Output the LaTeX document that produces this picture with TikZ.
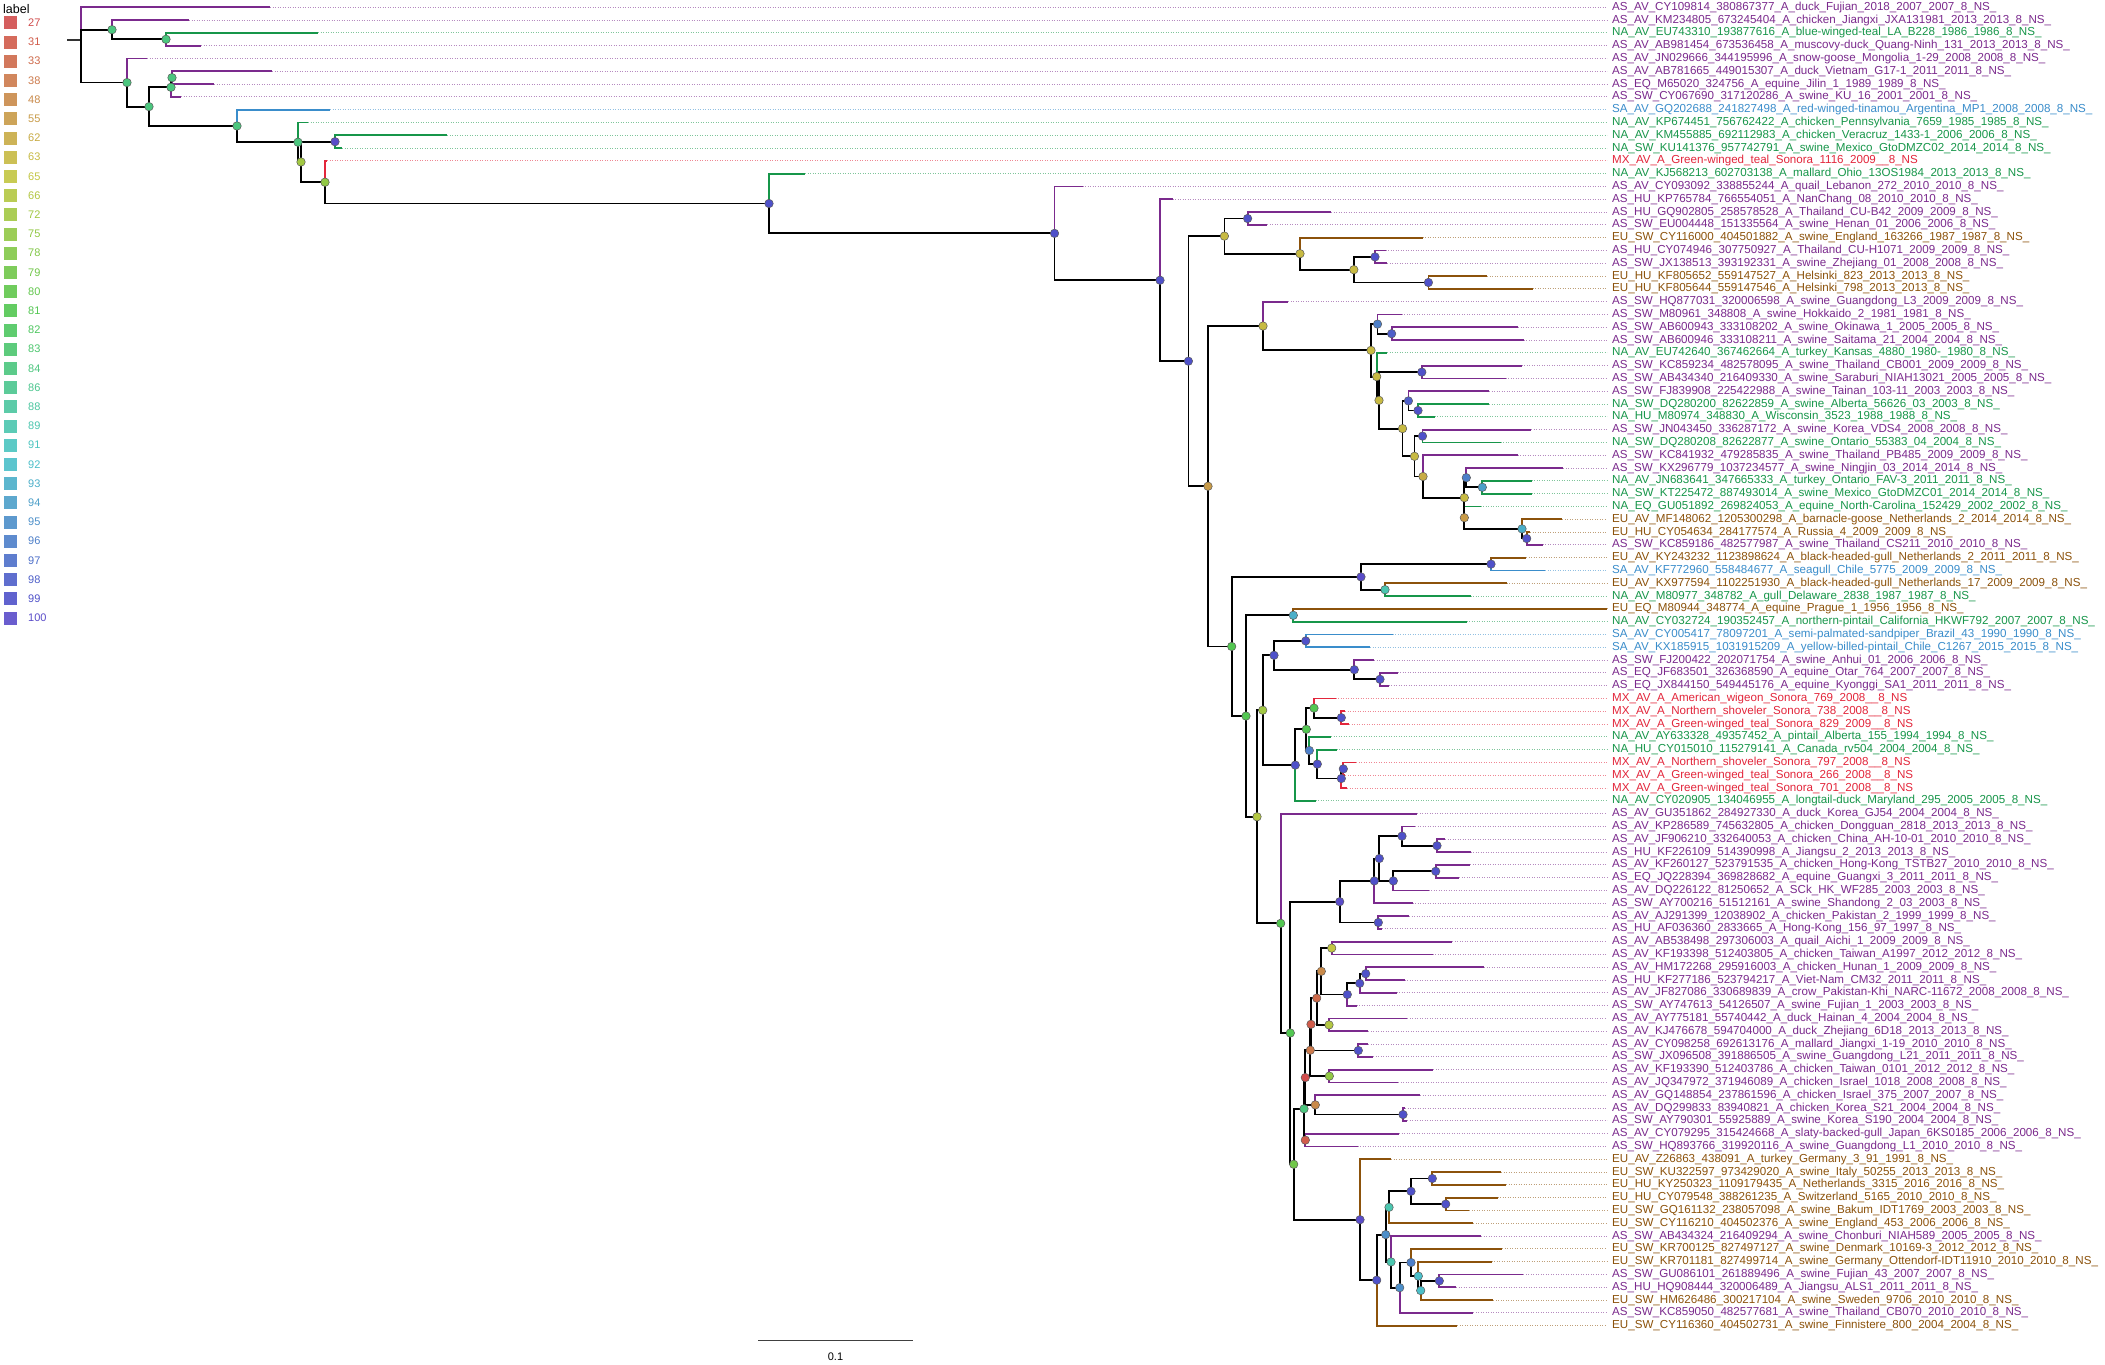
\documentclass[tikz,border=0pt]{standalone}
\usepackage{fontspec}
\setmainfont{Liberation Sans}
\usetikzlibrary{calc}
\definecolor{cAS}{HTML}{7B2A8D}
\definecolor{cNA}{HTML}{17964A}
\definecolor{cEU}{HTML}{8C520B}
\definecolor{cSA}{HTML}{3A8DCB}
\definecolor{cMX}{HTML}{E3263B}
\definecolor{s27}{HTML}{D14D4D}\definecolor{s31}{HTML}{D15C4B}\definecolor{s33}{HTML}{CE6A4B}
\definecolor{s38}{HTML}{CC7A4C}\definecolor{s48}{HTML}{C98A4A}\definecolor{s55}{HTML}{C89B48}
\definecolor{s62}{HTML}{C8AB45}\definecolor{s63}{HTML}{C7BA43}\definecolor{s65}{HTML}{C3C642}
\definecolor{s66}{HTML}{B3C742}\definecolor{s72}{HTML}{A2C843}\definecolor{s75}{HTML}{92C845}
\definecolor{s78}{HTML}{82C848}\definecolor{s79}{HTML}{71C74A}\definecolor{s80}{HTML}{61C74C}
\definecolor{s81}{HTML}{53C752}\definecolor{s82}{HTML}{4EC760}\definecolor{s83}{HTML}{4CC66E}
\definecolor{s84}{HTML}{4BC67E}\definecolor{s86}{HTML}{4BC68E}\definecolor{s88}{HTML}{4BC69F}
\definecolor{s89}{HTML}{4BC6AF}\definecolor{s91}{HTML}{4BC5C0}\definecolor{s92}{HTML}{4BBFC9}
\definecolor{s93}{HTML}{4BAFC9}\definecolor{s94}{HTML}{4C9FC9}\definecolor{s95}{HTML}{4C8FC9}
\definecolor{s96}{HTML}{4D7FC9}\definecolor{s97}{HTML}{4D6FC9}\definecolor{s98}{HTML}{4E5FC9}
\definecolor{s99}{HTML}{4F51C9}\definecolor{s100}{HTML}{5A4CC9}
\tikzset{
  br/.style={line width=1.8pt},
  dotline/.style={line width=0.9pt, dash pattern=on 0.9pt off 1.6pt, opacity=0.55},
  tiplab/.style={anchor=west, inner sep=0pt, font=\fontsize{11.6}{12}\selectfont},
  supc/.style={circle, minimum size=8.5pt, inner sep=0pt, draw=black!65, line width=0.5pt},
  legsq/.style={minimum size=13pt, inner sep=0pt, opacity=0.9},
  legtxt/.style={anchor=west, inner sep=0pt, font=\fontsize{11}{12}\selectfont},
}
\newcommand\Rw[1]{\csname r@#1\endcsname}
\newcommand\innode[3]{%
  \edef\tmpexpr{#3}%
  \pgfmathsetmacro\tmprow{\tmpexpr}%
  \expandafter\xdef\csname r@#1\endcsname{\tmprow}%
  \coordinate (#1) at (#2,{7.3+(\tmprow-1)*12.8});%
}
\newcommand\tipx[5]{%
  \coordinate (t#1) at (#2,{7.3+(#1-1)*12.8});%
  \coordinate (e#1) at (1607,{7.3+(#1-1)*12.8});%
  \draw[dotline,#4] (t#1) -- (e#1);%
  \draw[br,#4] (#3) |- (t#1);%
  \node[tiplab,text=#4] (l#1) at (1612,{7.3+(#1-1)*12.8}) {#5};%
}
\begin{document}
\catcode`\_=12
\begin{tikzpicture}[x=1pt,y=-1pt]
\fill[white] (0,0) rectangle (2105,1365);
\useasboundingbox (0,0) rectangle (2105,1365);
% ---- internal nodes (bottom-up) ----
\innode{B}{166}{(3+4)/2}
\innode{A}{112}{(2+\Rw{B})/2}
\innode{E1}{172}{(6+7)/2}
\innode{E}{171}{(\Rw{E1}+8)/2}
\innode{H}{335}{(11+12)/2}
\innode{O1}{1247.6}{17.5}
\innode{O4}{1375}{20.5}
\innode{O5}{1428.4}{22.5}
\innode{O3}{1353.8}{(\Rw{O4}+\Rw{O5})/2}
\innode{O2}{1300}{(19+\Rw{O3})/2}
\innode{O}{1224.4}{(\Rw{O1}+\Rw{O2})/2}
\innode{R2a}{1391.6}{26.5}
\innode{R2}{1377.5}{(25+\Rw{R2a})/2}
\innode{R5}{1421.8}{29.5}
\innode{R7a}{1418}{32.5}
\innode{R7}{1408.4}{(31+\Rw{R7a})/2}
\innode{R8a}{1422.5}{34.5}
\innode{R11a}{1482.3}{38.5}
\innode{R11}{1466.3}{(37+\Rw{R11a})/2}
\innode{R13a}{1526.7}{42.5}
\innode{R13}{1522}{(41+\Rw{R13a})/2}
\innode{R12}{1464.3}{(40+\Rw{R13})/2}
\innode{R10}{1464.3}{(\Rw{R11}+\Rw{R12})/2}
\innode{R9}{1423}{(36+\Rw{R10})/2}
\innode{R8}{1414.5}{(\Rw{R8a}+\Rw{R9})/2}
\innode{R6}{1402.5}{(\Rw{R7}+\Rw{R8})/2}
\innode{R3b}{1379}{(\Rw{R5}+\Rw{R6})/2}
\innode{R3}{1376.7}{(28+\Rw{R3b})/2}
\innode{R1}{1371}{(\Rw{R2}+\Rw{R3})/2}
\innode{R}{1263}{(24+\Rw{R1})/2}
\innode{S1a}{1491}{44.5}
\innode{S1b}{1385}{46.5}
\innode{S1}{1361}{(\Rw{S1a}+\Rw{S1b})/2}
\innode{S3}{1293.3}{48.5}
\innode{S6a}{1305.7}{50.5}
\innode{S6c}{1380}{53.5}
\innode{S6b}{1354.3}{(52+\Rw{S6c})/2}
\innode{S6}{1274}{(\Rw{S6a}+\Rw{S6b})/2}
\innode{S9a}{1341.3}{56.5}
\innode{S9}{1314}{(55+\Rw{S9a})/2}
\innode{S12a}{1343.3}{60.5}
\innode{S12}{1341.3}{(\Rw{S12a}+62)/2}
\innode{S11}{1317.3}{(59+\Rw{S12})/2}
\innode{S10}{1309.3}{(58+\Rw{S11})/2}
\innode{S8}{1306.3}{(\Rw{S9}+\Rw{S10})/2}
\innode{S7}{1295.3}{(\Rw{S8}+63)/2}
\innode{S5}{1262.7}{(\Rw{S6}+\Rw{S7})/2}
\innode{S21a}{1437}{66.5}
\innode{S21}{1402}{(65+\Rw{S21a})/2}
\innode{S22a}{1435.7}{68.5}
\innode{S22}{1393.3}{(\Rw{S22a}+70)/2}
\innode{S19}{1379.3}{(\Rw{S21}+\Rw{S22})/2}
\innode{S17}{1374.3}{(\Rw{S19}+71)/2}
\innode{S18}{1378.3}{72.5}
\innode{S15}{1339.7}{(\Rw{S17}+\Rw{S18})/2}
\innode{Na}{1331.7}{74.5}
\innode{Nb}{1365.7}{76.5}
\innode{Nc}{1359.7}{(\Rw{Nb}+78)/2}
\innode{Nd}{1347.3}{(\Rw{Nc}+79)/2}
\innode{Ne}{1321.3}{(\Rw{Na}+\Rw{Nd})/2}
\innode{Nf}{1329}{80.5}
\innode{Ng}{1316.7}{(\Rw{Ne}+\Rw{Nf})/2}
\innode{Nh}{1358.3}{82.5}
\innode{Ni}{1311}{(\Rw{Ng}+\Rw{Nh})/2}
\innode{Nj}{1329.3}{84.5}
\innode{Nk}{1310.3}{(\Rw{Ni}+\Rw{Nj})/2}
\innode{Nl}{1403}{87.5}
\innode{Nm}{1315.3}{(86+\Rw{Nl})/2}
\innode{Nn}{1305.3}{(\Rw{Nk}+\Rw{Nm})/2}
\innode{No}{1305.3}{89.5}
\innode{S23}{1304}{(\Rw{Nn}+\Rw{No})/2}
\innode{S29a}{1432.3}{92.5}
\innode{S29b}{1445.7}{94.5}
\innode{S29}{1411}{(\Rw{S29a}+\Rw{S29b})/2}
\innode{S27}{1389}{(\Rw{S29}+96)/2}
\innode{S34}{1439.3}{100.5}
\innode{S33}{1420.7}{(\Rw{S34}+102)/2}
\innode{S32}{1418.3}{(99+\Rw{S33})/2}
\innode{S31}{1411}{(98+\Rw{S32})/2}
\innode{S30}{1399.7}{(\Rw{S31}+103)/2}
\innode{S28}{1391}{(97+\Rw{S30})/2}
\innode{S26}{1385.7}{(\Rw{S27}+\Rw{S28})/2}
\innode{S25}{1376.7}{(\Rw{S26}+104)/2}
\innode{S24}{1360}{(91+\Rw{S25})/2}
\innode{S16}{1293.7}{(\Rw{S23}+\Rw{S24})/2}
\innode{S14}{1290.3}{(\Rw{S15}+\Rw{S16})/2}
\innode{S13}{1280.7}{(64+\Rw{S14})/2}
\innode{S4}{1257}{(\Rw{S5}+\Rw{S13})/2}
\innode{S2}{1246}{(\Rw{S3}+\Rw{S4})/2}
\innode{S}{1231.7}{(\Rw{S1}+\Rw{S2})/2}
\innode{P}{1208}{(\Rw{R}+\Rw{S})/2}
\innode{N}{1188.4}{(\Rw{O}+\Rw{P})/2}
\innode{M}{1160}{(16+\Rw{N})/2}
\innode{L}{1054.5}{(15+\Rw{M})/2}
\innode{K}{769}{(14+\Rw{L})/2}
\innode{J}{325}{(13+\Rw{K})/2}
\innode{I}{301}{(\Rw{H}+\Rw{J})/2}
\innode{G}{298}{(10+\Rw{I})/2}
\innode{F}{237}{(9+\Rw{G})/2}
\innode{D}{149}{(\Rw{E}+\Rw{F})/2}
\innode{C}{127}{(5+\Rw{D})/2}
\innode{Rt}{81}{(1+\Rw{A}+\Rw{C})/3}
\coordinate (stub) at (67,{7.3+(\Rw{Rt}-1)*12.8});
% ---- tips ----
\tipx{1}{270}{Rt}{cAS}{AS_AV_CY109814_380867377_A_duck_Fujian_2018_2007_2007_8_NS_}
\tipx{2}{189}{A}{cAS}{AS_AV_KM234805_673245404_A_chicken_Jiangxi_JXA131981_2013_2013_8_NS_}
\tipx{3}{318}{B}{cNA}{NA_AV_EU743310_193877616_A_blue-winged-teal_LA_B228_1986_1986_8_NS_}
\tipx{4}{201}{B}{cAS}{AS_AV_AB981454_673536458_A_muscovy-duck_Quang-Ninh_131_2013_2013_8_NS_}
\tipx{5}{147}{C}{cAS}{AS_AV_JN029666_344195996_A_snow-goose_Mongolia_1-29_2008_2008_8_NS_}
\tipx{6}{272}{E1}{cAS}{AS_AV_AB781665_449015307_A_duck_Vietnam_G17-1_2011_2011_8_NS_}
\tipx{7}{214}{E1}{cAS}{AS_EQ_M65020_324756_A_equine_Jilin_1_1989_1989_8_NS_}
\tipx{8}{181}{E}{cAS}{AS_SW_CY067690_317120286_A_swine_KU_16_2001_2001_8_NS_}
\tipx{9}{330}{F}{cSA}{SA_AV_GQ202688_241827498_A_red-winged-tinamou_Argentina_MP1_2008_2008_8_NS_}
\tipx{10}{308}{G}{cNA}{NA_AV_KP674451_756762422_A_chicken_Pennsylvania_7659_1985_1985_8_NS_}
\tipx{11}{447}{H}{cNA}{NA_AV_KM455885_692112983_A_chicken_Veracruz_1433-1_2006_2006_8_NS_}
\tipx{12}{342}{H}{cNA}{NA_SW_KU141376_957742791_A_swine_Mexico_GtoDMZC02_2014_2014_8_NS_}
\tipx{13}{327}{J}{cMX}{MX_AV_A_Green-winged_teal_Sonora_1116_2009__8_NS}
\tipx{14}{805}{K}{cNA}{NA_AV_KJ568213_602703138_A_mallard_Ohio_13OS1984_2013_2013_8_NS_}
\tipx{15}{1082.5}{L}{cAS}{AS_AV_CY093092_338855244_A_quail_Lebanon_272_2010_2010_8_NS_}
\tipx{16}{1172.7}{M}{cAS}{AS_HU_KP765784_766554051_A_NanChang_08_2010_2010_8_NS_}
\tipx{17}{1331}{O1}{cAS}{AS_HU_GQ902805_258578528_A_Thailand_CU-B42_2009_2009_8_NS_}
\tipx{18}{1267.3}{O1}{cAS}{AS_SW_EU004448_151335564_A_swine_Henan_01_2006_2006_8_NS_}
\tipx{19}{1422.5}{O2}{cEU}{EU_SW_CY116000_404501882_A_swine_England_163266_1987_1987_8_NS_}
\tipx{20}{1385.5}{O4}{cAS}{AS_HU_CY074946_307750927_A_Thailand_CU-H1071_2009_2009_8_NS_}
\tipx{21}{1387.3}{O4}{cAS}{AS_SW_JX138513_393192331_A_swine_Zhejiang_01_2008_2008_8_NS_}
\tipx{22}{1487.3}{O5}{cEU}{EU_HU_KF805652_559147527_A_Helsinki_823_2013_2013_8_NS_}
\tipx{23}{1532.7}{O5}{cEU}{EU_HU_KF805644_559147546_A_Helsinki_798_2013_2013_8_NS_}
\tipx{24}{1288.4}{R}{cAS}{AS_SW_HQ877031_320006598_A_swine_Guangdong_L3_2009_2009_8_NS_}
\tipx{25}{1401.8}{R2}{cAS}{AS_SW_M80961_348808_A_swine_Hokkaido_2_1981_1981_8_NS_}
\tipx{26}{1518}{R2a}{cAS}{AS_SW_AB600943_333108202_A_swine_Okinawa_1_2005_2005_8_NS_}
\tipx{27}{1523.6}{R2a}{cAS}{AS_SW_AB600946_333108211_A_swine_Saitama_21_2004_2004_8_NS_}
\tipx{28}{1387}{R3}{cNA}{NA_AV_EU742640_367462664_A_turkey_Kansas_4880_1980-_1980_8_NS_}
\tipx{29}{1521.8}{R5}{cAS}{AS_SW_KC859234_482578095_A_swine_Thailand_CB001_2009_2009_8_NS_}
\tipx{30}{1505.5}{R5}{cAS}{AS_SW_AB434340_216409330_A_swine_Saraburi_NIAH13021_2005_2005_8_NS_}
\tipx{31}{1489}{R7}{cAS}{AS_SW_FJ839908_225422988_A_swine_Tainan_103-11_2003_2003_8_NS_}
\tipx{32}{1489}{R7a}{cNA}{NA_SW_DQ280200_82622859_A_swine_Alberta_56626_03_2003_8_NS_}
\tipx{33}{1434.5}{R7a}{cNA}{NA_HU_M80974_348830_A_Wisconsin_3523_1988_1988_8_NS_}
\tipx{34}{1531}{R8a}{cAS}{AS_SW_JN043450_336287172_A_swine_Korea_VDS4_2008_2008_8_NS_}
\tipx{35}{1500.7}{R8a}{cNA}{NA_SW_DQ280208_82622877_A_swine_Ontario_55383_04_2004_8_NS_}
\tipx{36}{1517.5}{R9}{cAS}{AS_SW_KC841932_479285835_A_swine_Thailand_PB485_2009_2009_8_NS_}
\tipx{37}{1563.3}{R11}{cAS}{AS_SW_KX296779_1037234577_A_swine_Ningjin_03_2014_2014_8_NS_}
\tipx{38}{1531.7}{R11a}{cNA}{NA_AV_JN683641_347665333_A_turkey_Ontario_FAV-3_2011_2011_8_NS_}
\tipx{39}{1531.7}{R11a}{cNA}{NA_SW_KT225472_887493014_A_swine_Mexico_GtoDMZC01_2014_2014_8_NS_}
\tipx{40}{1480.7}{R12}{cNA}{NA_EQ_GU051892_269824053_A_equine_North-Carolina_152429_2002_2002_8_NS_}
\tipx{41}{1562.3}{R13}{cEU}{EU_AV_MF148062_1205300298_A_barnacle-goose_Netherlands_2_2014_2014_8_NS_}
\tipx{42}{1530}{R13a}{cEU}{EU_HU_CY054634_284177574_A_Russia_4_2009_2009_8_NS_}
\tipx{43}{1542.7}{R13a}{cAS}{AS_SW_KC859186_482577987_A_swine_Thailand_CS211_2010_2010_8_NS_}
\tipx{44}{1526}{S1a}{cEU}{EU_AV_KY243232_1123898624_A_black-headed-gull_Netherlands_2_2011_2011_8_NS_}
\tipx{45}{1545}{S1a}{cSA}{SA_AV_KF772960_558484677_A_seagull_Chile_5775_2009_2009_8_NS_}
\tipx{46}{1506.7}{S1b}{cEU}{EU_AV_KX977594_1102251930_A_black-headed-gull_Netherlands_17_2009_2009_8_NS_}
\tipx{47}{1470.7}{S1b}{cNA}{NA_AV_M80977_348782_A_gull_Delaware_2838_1987_1987_8_NS_}
\tipx{48}{1606.7}{S3}{cEU}{EU_EQ_M80944_348774_A_equine_Prague_1_1956_1956_8_NS_}
\tipx{49}{1466.7}{S3}{cNA}{NA_AV_CY032724_190352457_A_northern-pintail_California_HKWF792_2007_2007_8_NS_}
\tipx{50}{1392.7}{S6a}{cSA}{SA_AV_CY005417_78097201_A_semi-palmated-sandpiper_Brazil_43_1990_1990_8_NS_}
\tipx{51}{1370}{S6a}{cSA}{SA_AV_KX185915_1031915209_A_yellow-billed-pintail_Chile_C1267_2015_2015_8_NS_}
\tipx{52}{1374}{S6b}{cAS}{AS_SW_FJ200422_202071754_A_swine_Anhui_01_2006_2006_8_NS_}
\tipx{53}{1397.7}{S6c}{cAS}{AS_EQ_JF683501_326368590_A_equine_Otar_764_2007_2007_8_NS_}
\tipx{54}{1388.7}{S6c}{cAS}{AS_EQ_JX844150_549445176_A_equine_Kyonggi_SA1_2011_2011_8_NS_}
\tipx{55}{1335.7}{S9}{cMX}{MX_AV_A_American_wigeon_Sonora_769_2008__8_NS}
\tipx{56}{1345}{S9a}{cMX}{MX_AV_A_Northern_shoveler_Sonora_738_2008__8_NS}
\tipx{57}{1349}{S9a}{cMX}{MX_AV_A_Green-winged_teal_Sonora_829_2009__8_NS}
\tipx{58}{1331}{S10}{cNA}{NA_AV_AY633328_49357452_A_pintail_Alberta_155_1994_1994_8_NS_}
\tipx{59}{1336.7}{S11}{cNA}{NA_HU_CY015010_115279141_A_Canada_rv504_2004_2004_8_NS_}
\tipx{60}{1356.3}{S12a}{cMX}{MX_AV_A_Northern_shoveler_Sonora_797_2008__8_NS}
\tipx{61}{1345.3}{S12a}{cMX}{MX_AV_A_Green-winged_teal_Sonora_266_2008__8_NS}
\tipx{62}{1347}{S12}{cMX}{MX_AV_A_Green-winged_teal_Sonora_701_2008__8_NS}
\tipx{63}{1315.7}{S7}{cNA}{NA_AV_CY020905_134046955_A_longtail-duck_Maryland_295_2005_2005_8_NS_}
\tipx{64}{1417.3}{S13}{cAS}{AS_AV_GU351862_284927330_A_duck_Korea_GJ54_2004_2004_8_NS_}
\tipx{65}{1415}{S21}{cAS}{AS_AV_KP286589_745632805_A_chicken_Dongguan_2818_2013_2013_8_NS_}
\tipx{66}{1445}{S21a}{cAS}{AS_AV_JF906210_332640053_A_chicken_China_AH-10-01_2010_2010_8_NS_}
\tipx{67}{1470.7}{S21a}{cAS}{AS_HU_KF226109_514390998_A_Jiangsu_2_2013_2013_8_NS_}
\tipx{68}{1470}{S22a}{cAS}{AS_AV_KF260127_523791535_A_chicken_Hong-Kong_TSTB27_2010_2010_8_NS_}
\tipx{69}{1459.3}{S22a}{cAS}{AS_EQ_JQ228394_369828682_A_equine_Guangxi_3_2011_2011_8_NS_}
\tipx{70}{1428.7}{S22}{cAS}{AS_AV_DQ226122_81250652_A_SCk_HK_WF285_2003_2003_8_NS_}
\tipx{71}{1412.7}{S17}{cAS}{AS_SW_AY700216_51512161_A_swine_Shandong_2_03_2003_8_NS_}
\tipx{72}{1409}{S18}{cAS}{AS_AV_AJ291399_12038902_A_chicken_Pakistan_2_1999_1999_8_NS_}
\tipx{73}{1382}{S18}{cAS}{AS_HU_AF036360_2833665_A_Hong-Kong_156_97_1997_8_NS_}
\tipx{74}{1452.3}{Na}{cAS}{AS_AV_AB538498_297306003_A_quail_Aichi_1_2009_2009_8_NS_}
\tipx{75}{1432.7}{Na}{cAS}{AS_AV_KF193398_512403805_A_chicken_Taiwan_A1997_2012_2012_8_NS_}
\tipx{76}{1484.3}{Nb}{cAS}{AS_AV_HM172268_295916003_A_chicken_Hunan_1_2009_2009_8_NS_}
\tipx{77}{1404.7}{Nb}{cAS}{AS_HU_KF277186_523794217_A_Viet-Nam_CM32_2011_2011_8_NS_}
\tipx{78}{1396.7}{Nc}{cAS}{AS_AV_JF827086_330689839_A_crow_Pakistan-Khi_NARC-11672_2008_2008_8_NS_}
\tipx{79}{1356.7}{Nd}{cAS}{AS_SW_AY747613_54126507_A_swine_Fujian_1_2003_2003_8_NS_}
\tipx{80}{1407.3}{Nf}{cAS}{AS_AV_AY775181_55740442_A_duck_Hainan_4_2004_2004_8_NS_}
\tipx{81}{1368.3}{Nf}{cAS}{AS_AV_KJ476678_594704000_A_duck_Zhejiang_6D18_2013_2013_8_NS_}
\tipx{82}{1368.3}{Nh}{cAS}{AS_AV_CY098258_692613176_A_mallard_Jiangxi_1-19_2010_2010_8_NS_}
\tipx{83}{1373.3}{Nh}{cAS}{AS_SW_JX096508_391886505_A_swine_Guangdong_L21_2011_2011_8_NS_}
\tipx{84}{1433.3}{Nj}{cAS}{AS_AV_KF193390_512403786_A_chicken_Taiwan_0101_2012_2012_8_NS_}
\tipx{85}{1398.3}{Nj}{cAS}{AS_AV_JQ347972_371946089_A_chicken_Israel_1018_2008_2008_8_NS_}
\tipx{86}{1420}{Nm}{cAS}{AS_AV_GQ148854_237861596_A_chicken_Israel_375_2007_2007_8_NS_}
\tipx{87}{1405}{Nl}{cAS}{AS_AV_DQ299833_83940821_A_chicken_Korea_S21_2004_2004_8_NS_}
\tipx{88}{1407}{Nl}{cAS}{AS_SW_AY790301_55925889_A_swine_Korea_S190_2004_2004_8_NS_}
\tipx{89}{1399.3}{No}{cAS}{AS_AV_CY079295_315424668_A_slaty-backed-gull_Japan_6KS0185_2006_2006_8_NS_}
\tipx{90}{1357.7}{No}{cAS}{AS_SW_HQ893766_319920116_A_swine_Guangdong_L1_2010_2010_8_NS_}
\tipx{91}{1391}{S24}{cEU}{EU_AV_Z26863_438091_A_turkey_Germany_3_91_1991_8_NS_}
\tipx{92}{1501}{S29a}{cEU}{EU_SW_KU322597_973429020_A_swine_Italy_50255_2013_2013_8_NS_}
\tipx{93}{1506}{S29a}{cEU}{EU_HU_KY250323_1109179435_A_Netherlands_3315_2016_2016_8_NS_}
\tipx{94}{1497.7}{S29b}{cEU}{EU_HU_CY079548_388261235_A_Switzerland_5165_2010_2010_8_NS_}
\tipx{95}{1469.3}{S29b}{cEU}{EU_SW_GQ161132_238057098_A_swine_Bakum_IDT1769_2003_2003_8_NS_}
\tipx{96}{1473.3}{S27}{cEU}{EU_SW_CY116210_404502376_A_swine_England_453_2006_2006_8_NS_}
\tipx{97}{1481}{S28}{cAS}{AS_SW_AB434324_216409294_A_swine_Chonburi_NIAH589_2005_2005_8_NS_}
\tipx{98}{1502.3}{S31}{cEU}{EU_SW_KR700125_827497127_A_swine_Denmark_10169-3_2012_2012_8_NS_}
\tipx{99}{1491.7}{S32}{cEU}{EU_SW_KR701181_827499714_A_swine_Germany_Ottendorf-IDT11910_2010_2010_8_NS_}
\tipx{100}{1523.3}{S34}{cAS}{AS_SW_GU086101_261889496_A_swine_Fujian_43_2007_2007_8_NS_}
\tipx{101}{1456}{S34}{cAS}{AS_HU_HQ908444_320006489_A_Jiangsu_ALS1_2011_2011_8_NS_}
\tipx{102}{1493.3}{S33}{cEU}{EU_SW_HM626486_300217104_A_swine_Sweden_9706_2010_2010_8_NS_}
\tipx{103}{1473.3}{S30}{cAS}{AS_SW_KC859050_482577681_A_swine_Thailand_CB070_2010_2010_8_NS_}
\tipx{104}{1457.3}{S25}{cEU}{EU_SW_CY116360_404502731_A_swine_Finnistere_800_2004_2004_8_NS_}
% ---- internal branches ----
\draw[br,black!80] (stub) -- (Rt);
\foreach \a/\b in {Rt/A,Rt/C,A/B,C/D,D/E,D/F,E/E1,F/G,G/I,I/H,I/J,J/K,K/L,L/M,M/N,N/O,N/P,
  O/O1,O/O2,O2/O3,O3/O4,O3/O5,P/R,P/S,R/R1,R1/R2,R1/R3,R2/R2a,R3/R3b,R3b/R5,R3b/R6,R6/R7,R6/R8,
  R7/R7a,R8/R8a,R8/R9,R9/R10,R10/R11,R10/R12,R11/R11a,R12/R13,R13/R13a,S/S1,S/S2,S1/S1a,S1/S1b,
  S2/S3,S2/S4,S4/S5,S4/S13,S5/S6,S5/S7,S6/S6a,S6/S6b,S6b/S6c,S7/S8,S8/S9,S8/S10,S9/S9a,S10/S11,
  S11/S12,S12/S12a,S13/S14,S14/S15,S14/S16,S15/S17,S15/S18,S17/S19,S19/S21,S19/S22,S21/S21a,
  S22/S22a,S16/S23,S16/S24,S23/Nn,S23/No,Nn/Nk,Nn/Nm,Nk/Ni,Nk/Nj,Ni/Ng,Ni/Nh,Ng/Ne,Ng/Nf,
  Ne/Na,Ne/Nd,Nd/Nc,Nc/Nb,Nm/Nl,S24/S25,S25/S26,S26/S27,S26/S28,S27/S29,S29/S29a,S29/S29b,
  S28/S30,S30/S31,S31/S32,S32/S33,S33/S34}
  \draw[br,black] (\a) |- (\b);
% ---- support circles ----
\foreach \n/\s in {A/84,B/84,C/84,D/84,E/84,E1/84,F/84,G/84,H/100,I/72,J/75,K/99,L/99,M/99,N/99,
  O/63,O1/99,O2/63,O3/63,O4/99,O5/99,P/55,R/63,R1/63,R2/96,R2a/98,R3/63,R3b/63,R5/99,R6/63,
  R7/98,R7a/99,R8/63,R8a/99,R9/62,R10/63,R11/96,R11a/94,R12/55,R13/93,R13a/99,S/81,S1/100,
  S1a/99,S1b/89,S2/81,S3/93,S4/66,S5/72,S6/99,S6a/99,S6b/99,S6c/99,S7/99,S8/81,S9/81,S9a/99,
  S10/96,S11/99,S12/99,S12a/99,S13/81,S14/81,S15/100,S17/99,S18/99,S19/99,S21/99,S21a/99,
  S22/99,S22a/99,Na/65,Nb/99,Nc/99,Nd/99,Ne/48,Nf/66,Ng/33,Nh/99,Ni/31,Nj/75,Nk/38,Nl/99,
  Nm/48,Nn/27,No/31,S23/84,S16/79,S24/100,S25/99,S26/95,S27/89,S28/89,S29/99,S29a/99,S29b/99,
  S30/95,S31/96,S32/92,S33/92,S34/99}
  \node[supc,fill=s\s] (c\n) at (\n) {};
% ---- legend ----
\node[anchor=west,inner sep=0pt,font=\fontsize{12.5}{13}\selectfont] (legtitle) at (3,9.5) {label};
\foreach \v [count=\i from 0] in {27,31,33,38,48,55,62,63,65,66,72,75,78,79,80,81,82,83,84,86,88,89,91,92,93,94,95,96,97,98,99,100}{
  \node[legsq,fill=s\v] (sq\v) at (10.5,{22.8+\i*19.2}) {};
  \node[legtxt,text=s\v] (lt\v) at (28,{22.8+\i*19.2}) {\v};
}
% ---- scale bar ----
\coordinate (sb1) at (758,1340);
\coordinate (sb2) at (913,1340);
\draw[line width=1pt,black!75] (sb1) -- (sb2);
\node[inner sep=0pt,font=\fontsize{11}{12}\selectfont] (sblab) at (835.5,1357) {0.1};
\end{tikzpicture}
\end{document}
